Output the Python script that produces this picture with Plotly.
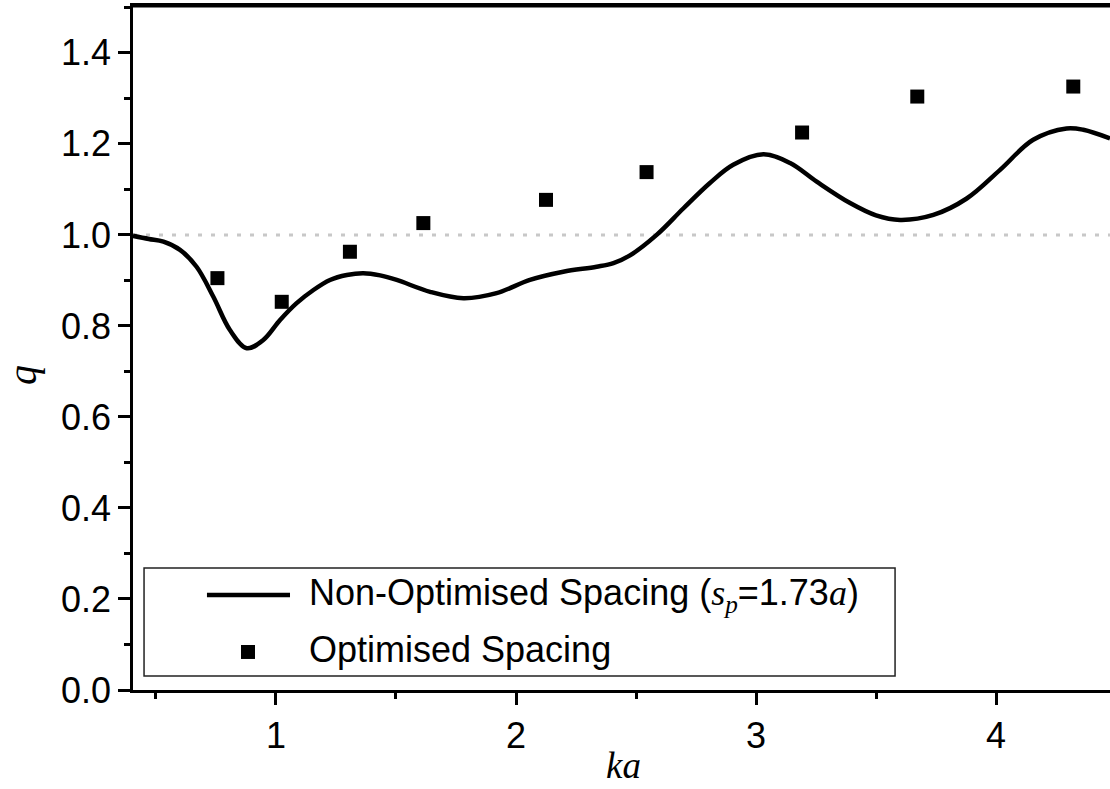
import plotly.graph_objects as go

# Non-optimised spacing curve (s_p = 1.73a)
curve_ka = [0.404, 0.47, 0.531, 0.60, 0.669, 0.739, 0.808, 0.878, 0.947, 1.017, 1.086,
            1.156, 1.225, 1.295, 1.364, 1.434, 1.503, 1.642, 1.781, 1.919, 2.058, 2.197, 2.336,
            2.406, 2.475, 2.586, 2.697, 2.808, 2.905, 3.031, 3.142, 3.253, 3.392,
            3.50, 3.60, 3.739, 3.878, 4.017, 4.155, 4.294, 4.364, 4.475]
curve_q = [0.998, 0.991, 0.985, 0.967, 0.930, 0.864, 0.791, 0.751, 0.769, 0.813, 0.850,
           0.879, 0.901, 0.912, 0.916, 0.911, 0.901, 0.875, 0.861, 0.872, 0.901, 0.919, 0.930,
           0.938, 0.955, 1.000, 1.058, 1.114, 1.154, 1.177, 1.158, 1.117, 1.070,
           1.043, 1.033, 1.044, 1.080, 1.143, 1.209, 1.234, 1.231, 1.212]

# Optimised spacing points
opt_ka = [0.756, 1.024, 1.308, 1.614, 2.125, 2.544, 3.192, 3.672, 4.322]
opt_q = [0.905, 0.853, 0.963, 1.026, 1.077, 1.138, 1.225, 1.304, 1.326]

x_range = [0.4042, 4.475]
y_range = [0, 1.503]
x_ticks = [1, 2, 3, 4]
y_ticks = [0.0, 0.2, 0.4, 0.6, 0.8, 1.0, 1.2, 1.4]
ref_q = 1.0

SANS = "Liberation Sans, Arial, sans-serif"
SERIF = "Liberation Serif, Times New Roman, serif"
FS = 36

fig = go.Figure()
fig.add_trace(go.Scatter(x=curve_ka, y=curve_q, mode="lines",
                         line=dict(color="black", width=4.5, shape="spline", smoothing=1.0),
                         showlegend=False))
fig.add_trace(go.Scatter(x=opt_ka, y=opt_q, mode="markers",
                         marker=dict(symbol="square", size=14, color="black"),
                         showlegend=False))

# dotted reference line at q = 1
fig.add_shape(type="line", xref="paper", yref="y", x0=0, x1=1, y0=ref_q, y1=ref_q,
              line=dict(color="#c8c8c8", width=3, dash="4px,9px"), layer="below")

# top frame line
fig.add_shape(type="line", xref="paper", yref="paper", x0=-0.003, x1=1, y0=1, y1=1,
              line=dict(color="black", width=3), layer="above")

# manual legend
fig.add_shape(type="rect", xref="paper", yref="paper", x0=0.0113, x1=0.780, y0=0.0205, y1=0.1784,
              line=dict(color="#222222", width=1.5), fillcolor="white")
fig.add_shape(type="line", xref="paper", yref="paper", x0=0.0757, x1=0.1607, y0=0.1389, y1=0.1389,
              line=dict(color="black", width=4.5))
fig.add_shape(type="rect", xref="paper", yref="paper", xsizemode="pixel", ysizemode="pixel",
              xanchor=0.1177, yanchor=0.0556, x0=-7, x1=7, y0=-7, y1=7,
              line=dict(width=0), fillcolor="black")
fig.add_annotation(xref="paper", yref="paper", x=0.178, y=0.1389, xanchor="left", yanchor="middle",
                   showarrow=False, font=dict(family=SANS, size=FS, color="black"),
                   text="Non-Optimised Spacing (<span style='font-family:Liberation Serif'><i>s<sub>p</sub></i></span>=1.73<span style='font-family:Liberation Serif'><i>a</i></span>)")
fig.add_annotation(xref="paper", yref="paper", x=0.178, y=0.0585, xanchor="left", yanchor="middle",
                   showarrow=False, font=dict(family=SANS, size=FS, color="black"),
                   text="Optimised Spacing")

# axis titles
fig.add_annotation(xref="paper", yref="paper", x=0.502, y=-0.111, xanchor="center", yanchor="middle",
                   showarrow=False, font=dict(family=SERIF, size=37, color="black"),
                   text="<i>ka</i>")
fig.add_annotation(xref="paper", yref="paper", x=-0.113, y=0.46, xanchor="center", yanchor="middle",
                   showarrow=False, textangle=-90, font=dict(family=SERIF, size=40, color="black"),
                   text="<i>q</i>")

fig.update_layout(
    width=1110, height=789,
    margin=dict(l=133, r=0, t=6, b=99),
    paper_bgcolor="white", plot_bgcolor="white",
    font=dict(family=SANS, size=FS, color="black"),
    xaxis=dict(range=x_range, tickvals=x_ticks, showgrid=False, zeroline=False,
               showline=True, linecolor="black", linewidth=2.5, mirror=True,
               ticks="outside", ticklen=12, tickwidth=2.5, tickcolor="black",
               minor=dict(dtick=0.5, tick0=0, ticks="outside", ticklen=6, tickwidth=2.5, tickcolor="black"),
               tickfont=dict(family=SANS, size=FS, color="black")),
    yaxis=dict(range=y_range, tickvals=y_ticks, ticktext=[f"{v:.1f}" for v in y_ticks],
               showgrid=False, zeroline=False,
               showline=True, linecolor="black", linewidth=2.5,
               ticks="outside", ticklen=12, tickwidth=2.5, tickcolor="black",
               minor=dict(dtick=0.1, tick0=0, ticks="outside", ticklen=6, tickwidth=2.5, tickcolor="black"),
               tickfont=dict(family=SANS, size=FS, color="black")),
)

fig.write_html("out.html")
